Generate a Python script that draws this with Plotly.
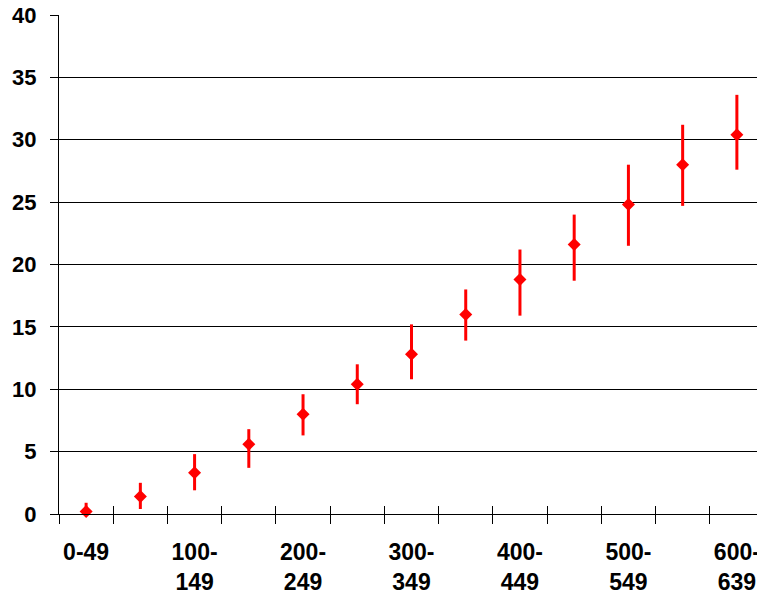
import plotly.graph_objects as go

categories = ["0-49", "50-99", "100-149", "150-199", "200-249", "250-299", "300-349",
              "350-399", "400-449", "450-499", "500-549", "550-599", "600-639"]
values = [0.2, 1.4, 3.3, 5.6, 8.0, 10.4, 12.8, 16.0, 18.8, 21.6, 24.8, 28.0, 30.4]
upper = [0.9, 2.5, 4.8, 6.8, 9.6, 12.0, 15.2, 18.0, 21.2, 24.0, 28.0, 31.2, 33.6]
lower = [0.0, 0.4, 1.9, 3.7, 6.3, 8.8, 10.8, 13.9, 15.9, 18.7, 21.5, 24.7, 27.6]
label_cats = ["0-49", "100-149", "200-249", "300-349", "400-449", "500-549", "600-639"]
label_text = ["0-49", "100-<br>149", "200-<br>249", "300-<br>349", "400-<br>449", "500-<br>549", "600-<br>639"]

err_plus = [u - v for u, v in zip(upper, values)]
err_minus = [v - l for v, l in zip(values, lower)]

n = len(categories)
boundaries = [i - 0.5 for i in range(n + 1)]

FONT = "Arial, 'Liberation Sans', sans-serif"

fig = go.Figure()
fig.add_trace(go.Scatter(
    x=categories, y=values, mode="markers",
    marker=dict(symbol="diamond", size=10, color="#ff0000"),
    error_y=dict(type="data", symmetric=False, array=err_plus, arrayminus=err_minus,
                 color="#ff0000", thickness=3, width=0),
    showlegend=False, cliponaxis=False,
))
# invisible helper traces so overlay axes are drawn
fig.add_trace(go.Scatter(x=[0], y=[0], xaxis="x2", mode="markers",
                         marker=dict(opacity=0), showlegend=False, hoverinfo="skip"))
fig.add_trace(go.Scatter(x=[0], y=[0], xaxis="x3", mode="markers",
                         marker=dict(opacity=0), showlegend=False, hoverinfo="skip"))

# page body has an 8px margin, so the figure is sized/offset to compensate
fig.update_layout(
    width=757, height=587,
    margin=dict(l=51, r=1, t=7, b=81, autoexpand=False),
    paper_bgcolor="white", plot_bgcolor="white",
    font=dict(family=FONT, color="black"),
    xaxis=dict(
        type="category", categoryorder="array", categoryarray=categories,
        range=[-0.5, n - 0.5], automargin=False,
        tickmode="array", tickvals=label_cats, ticktext=label_text,
        tickfont=dict(size=23, weight="bold", family=FONT),
        ticks="", ticklabelstandoff=17, ticklabeloverflow="allow",
        showgrid=False, showline=True, linecolor="black", linewidth=1,
        zeroline=False, fixedrange=True,
    ),
    xaxis2=dict(
        overlaying="x", anchor="y", side="bottom", automargin=False,
        range=[-0.5, n - 0.5], tickmode="array", tickvals=boundaries,
        ticks="outside", ticklen=9, tickcolor="black", tickwidth=1,
        showticklabels=False, showgrid=False, showline=False, zeroline=False,
    ),
    xaxis3=dict(
        overlaying="x", anchor="y", side="bottom", automargin=False,
        range=[-0.5, n - 0.5], tickmode="array", tickvals=boundaries,
        ticks="inside", ticklen=8, tickcolor="black", tickwidth=1,
        showticklabels=False, showgrid=False, showline=False, zeroline=False,
    ),
    yaxis=dict(
        range=[0, 40], dtick=5, tick0=0, automargin=False,
        tickfont=dict(size=22, weight="bold", family=FONT),
        ticks="outside", ticklen=8, tickcolor="black", ticklabelstandoff=9,
        ticklabeloverflow="allow",
        showgrid=True, gridcolor="black", gridwidth=1,
        showline=True, linecolor="black", linewidth=1, zeroline=False,
    ),
)

fig.write_html("out.html")
